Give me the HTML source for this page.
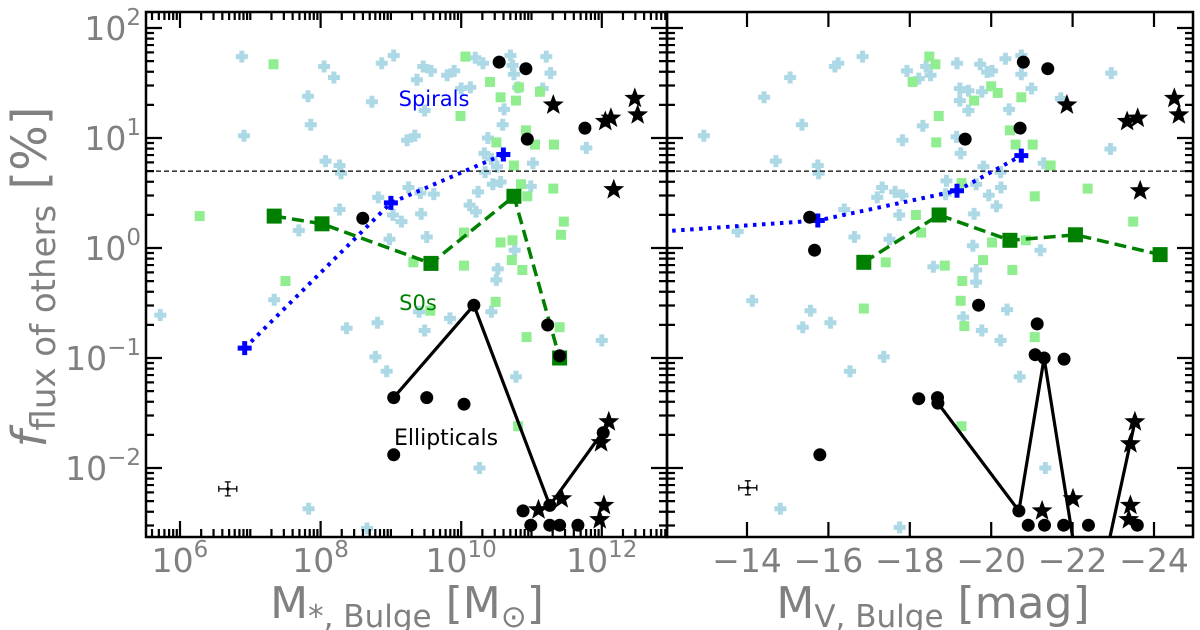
<!DOCTYPE html>
<html><head><meta charset="utf-8">
<style>
html,body{margin:0;padding:0;background:#fff;}
svg{display:block;font-family:"DejaVu Sans","Liberation Sans",sans-serif;}
</style></head>
<body>
<svg id="chart" width="1200" height="630" viewBox="0 0 1200 630" xmlns="http://www.w3.org/2000/svg">
<defs>
<clipPath id="clipL"><rect x="146" y="12" width="521" height="525"/></clipPath>
<clipPath id="clipR"><rect x="667" y="12" width="526" height="525"/></clipPath>
</defs>
<g id="gL" clip-path="url(#clipL)"></g>
<g id="gR" clip-path="url(#clipR)"></g>
<g id="axes"></g>
<text x="407" y="618" text-anchor="middle" font-size="44" fill="#808080">M<tspan font-size="31" dy="9">*, Bulge</tspan><tspan dy="-9"> [M</tspan><tspan font-size="31" dy="9">⊙</tspan><tspan dy="-9">]</tspan></text>
<text x="933" y="618" text-anchor="middle" font-size="44" fill="#808080">M<tspan font-size="31" dy="9">V, Bulge</tspan><tspan dy="-9"> [mag]</tspan></text>
<text transform="translate(46,277) rotate(-90)" text-anchor="middle" font-size="48" fill="#808080"><tspan font-style="italic">f</tspan><tspan font-size="34" dy="9">flux of others</tspan><tspan dy="-9"> [%]</tspan></text>
<text x="434" y="106" text-anchor="middle" font-size="21" fill="#0000ff">Spirals</text>
<text x="418" y="310" text-anchor="middle" font-size="21" fill="#008000">S0s</text>
<text x="446" y="445" text-anchor="middle" font-size="22" fill="#000">Ellipticals</text>
</svg>
<script>
// ---------- DATA (log10 M* for left panel, -M_V for right panel, log10 f[%]) ----------
const spLightLogM=[6.88,6.91,7.82,7.86,8.05,8.19,8.07,8.27,8.29,8.27,7.69,7.34,8.73,8.87,9.04,9.23,9.34,9.37,9.48,9.46,9.57,9.80,9.90,10.0,10.13,10.2,10.31,10.7,10.73,10.75,10.81,10.61,10.59,10.38,10.33,10.43,10.51,10.34,10.45,10.56,10.24,10.12,10.21,10.99,11.02,11.21,11.27,11.16,11.78,9.25,9.42,9.61,8.82,9.03,9.15,9.43,8.98,9.51,10.76,10.52,10.5,8.37,8.81,9.40,9.48,9.84,10.43,8.78,8.94,10.78,10.26,8.66,12.0,5.72,7.83];
const spLightLogF=[1.74,1.02,1.38,1.12,1.65,1.55,0.79,0.75,0.68,0.35,0.16,-0.47,1.33,1.68,1.75,0.98,1.02,1.53,1.25,1.65,1.61,1.57,1.61,1.45,1.46,1.73,1.68,1.75,1.66,1.58,1.46,1.26,1.12,1.0,0.86,0.81,0.74,0.69,0.58,0.60,0.51,0.39,0.33,0.56,0.77,1.74,1.59,1.45,0.91,0.55,0.50,0.49,0.46,0.30,0.24,0.31,0.08,0.10,-0.02,-0.19,-0.29,-0.73,-0.68,-0.58,-0.75,-0.64,-0.58,-0.99,-1.12,-1.17,-2.0,-2.55,-0.84,-0.61,-2.37];
const s0LightLogM=[7.33,6.28,7.50,10.06,10.41,10.56,10.78,10.82,11.12,9.99,10.5,10.92,11.05,11.32,10.75,10.85,10.94,11.31,11.46,11.42,10.56,10.73,10.72,10.87,10.04,9.32,10.04,10.49,10.93,11.40,9.56,10.81];
const s0LightLogF=[1.67,0.29,-0.30,1.74,1.51,1.37,1.34,1.46,1.42,1.20,0.96,1.07,0.94,0.94,0.75,0.58,0.47,0.54,0.24,0.12,0.05,0.07,-0.11,-0.20,-0.16,-0.13,0.14,-0.49,-0.81,-0.72,-0.57,-1.62];
const ellLogM=[10.54,10.92,11.76,10.94,8.6,10.18,9.04,9.51,10.04,9.04,11.23,11.4,10.88,10.99,11.26,11.4,11.66,11.26,12.02];
const ellLogF=[1.69,1.63,1.09,0.99,0.27,-0.52,-1.36,-1.36,-1.42,-1.88,-0.70,-0.98,-2.39,-2.52,-2.52,-2.52,-2.52,-2.34,-1.68];
const starLogM=[11.31,12.05,12.13,12.47,12.51,12.17,11.1,11.43,11.99,12.1,12.03,11.97];
const starLogF=[1.30,1.15,1.18,1.36,1.21,0.53,-2.38,-2.28,-1.77,-1.58,-2.34,-2.47];
const spBinLogM=[6.92,9.0,10.6];
const spBinLogF=[-0.91,0.41,0.85];
const s0BinLogM=[7.34,8.02,9.57,10.75,11.4];
const s0BinLogF=[0.29,0.22,-0.14,0.47,-1.0];
const ellBinLogM=[9.04,10.18,11.26,12.12];
const ellBinLogF=[-1.36,-0.52,-2.34,-1.58];

const spLightMag=[12.94,14.42,15.06,15.35,16.16,16.24,16.84,14.71,15.74,15.76,13.77,16.39,16.64,17.2,17.32,17.64,17.82,17.74,17.5,17.82,17.93,18.22,18.4,18.51,18.32,18.9,18.88,19.16,19.23,19.44,19.23,19.44,19.15,19.25,19.77,19.73,19.9,20.02,20.35,20.74,20.74,20.99,20.44,21.71,22.95,22.93,21.29,19.81,20.23,20.24,19.63,19.94,20.13,19.58,19.55,21.21,19.63,19.63,18.58,14.13,15.56,20.39,15.37,16.05,16.53,17.36,19.31,19.77,20.23,20.7,21.33,14.82,17.75];
const spLightLogFR=[1.02,1.37,1.55,1.12,1.65,1.68,1.74,0.79,0.75,0.68,0.15,0.35,0.10,0.46,0.55,0.51,0.48,0.30,0.08,0.98,1.61,1.54,1.65,1.57,1.11,0.61,0.49,1.68,1.45,1.43,1.34,1.25,1.01,0.86,1.42,1.67,1.6,1.61,1.72,1.75,1.58,1.45,1.26,1.36,1.59,0.90,0.77,0.74,0.69,0.55,0.58,0.48,0.38,0.31,0.02,-0.02,-0.20,-0.31,-0.17,-0.48,-0.57,-0.56,-0.72,-0.68,-1.12,-0.99,-0.63,-0.75,-0.84,-1.17,-2.0,-2.37,-2.54];
const s0LightMag=[18.48,18.63,18.07,20.0,20.16,19.58,20.74,18.71,18.65,20.46,20.6,21.02,21.46,19.27,21.07,22.37,23.49,18.15,18.28,17.41,18.86,19.8,20.02,20.85,20.52,19.29,19.25,16.87,19.34,21.07,19.27];
const s0LightLogFR=[1.74,1.67,1.51,1.47,1.41,1.34,1.37,1.20,0.96,1.07,0.94,0.94,0.75,0.59,0.47,0.54,0.24,0.30,0.14,-0.13,-0.16,-0.11,0.05,0.07,-0.20,-0.30,-0.48,-0.55,-0.71,-0.81,-1.62];
const ellMag=[20.79,21.39,20.71,19.36,15.54,15.66,19.69,21.13,21.08,21.3,21.79,18.22,18.68,18.69,15.79,20.68,20.91,21.31,21.78,22.39,23.59];
const ellLogFR=[1.69,1.63,1.09,0.99,0.28,-0.02,-0.52,-0.69,-0.97,-1.0,-1.01,-1.37,-1.36,-1.41,-1.88,-2.39,-2.52,-2.52,-2.52,-2.52,-2.52];
const starMag=[21.86,23.34,23.6,24.5,24.61,23.66,21.25,22.01,23.42,23.53,23.42,23.38];
const starLogFR=[1.30,1.15,1.18,1.36,1.21,0.52,-2.39,-2.28,-1.78,-1.58,-2.34,-2.47];
const spBinMag=[11.5,15.74,19.16,20.74];
const spBinLogFR=[0.14,0.25,0.52,0.84];
const s0BinMag=[16.87,18.72,20.46,22.07,24.15];
const s0BinLogFR=[-0.13,0.30,0.07,0.12,-0.06];
const ellBinMag=[18.69,20.68,21.3,22.39,23.53];
const ellBinLogFR=[-1.41,-2.39,-1.0,-3.53,-1.58];

const refLogF=0.699; // 5 per cent
const errLeft=[6.68,-2.19];
const errRight=[14.02,-2.18];

// ---------- SCALES ----------
const xL=lm=>180+(lm-6)*70.3;
const xR=m=>747+(m-14)*40.7;
const yS=lf=>248-lf*110;
const NS="http://www.w3.org/2000/svg";
function mk(tag,attrs,parent){const e=document.createElementNS(NS,tag);for(const k in attrs)e.setAttribute(k,attrs[k]);parent.appendChild(e);return e;}
const gL=document.getElementById('gL'),gR=document.getElementById('gR'),ax=document.getElementById('axes');

function plus(g,x,y,s,w,col){return mk('path',{d:`M${x-s} ${y}H${x+s}M${x} ${y-s}V${y+s}`,stroke:col,'stroke-width':w,fill:'none'},g);}
function starPath(x,y,R){let d='';for(let i=0;i<10;i++){const r=i%2?R*0.42:R;const a=-Math.PI/2+i*Math.PI/5;d+=(i?'L':'M')+(x+r*Math.cos(a)).toFixed(1)+' '+(y+r*Math.sin(a)).toFixed(1);}return d+'Z';}

function drawPanel(g,X,spx,spy,s0x,s0y,ex,ey,stx,sty,bx1,by1,bx2,by2,bx3,by3,err,side){
  for(let i=0;i<spx.length;i++){const p=plus(g,X(spx[i]),yS(spy[i]),6,5,'#add8e6');
    
    }
  for(let i=0;i<s0x.length;i++){const r=mk('rect',{x:X(s0x[i])-5,y:yS(s0y[i])-5,width:10,height:10,fill:'#90ee90'},g);
    
    }
  const hl=mk('line',{x1:140,x2:1200,y1:yS(refLogF),y2:yS(refLogF),stroke:'#000','stroke-width':1.3,'stroke-dasharray':'5 3'},g);
  
  
  const l1=mk('polyline',{points:bx1.map((v,i)=>X(v)+','+yS(by1[i])).join(' '),fill:'none',stroke:'#0000ff','stroke-width':4,'stroke-dasharray':'3.5 5.5'},g);
  
  
  for(let i=0;i<bx1.length;i++){const p=plus(g,X(bx1[i]),yS(by1[i]),7,5,'#0000ff');
    
    }
  const l2=mk('polyline',{points:bx2.map((v,i)=>X(v)+','+yS(by2[i])).join(' '),fill:'none',stroke:'#008000','stroke-width':3.5,'stroke-dasharray':'12 6'},g);
  
  
  for(let i=0;i<bx2.length;i++){const r=mk('rect',{x:X(bx2[i])-7.5,y:yS(by2[i])-7.5,width:15,height:15,fill:'#008000'},g);
    
    }
  const l3=mk('polyline',{points:bx3.map((v,i)=>X(v)+','+yS(by3[i])).join(' '),fill:'none',stroke:'#000','stroke-width':3.2},g);
  
  
  for(let i=0;i<ex.length;i++){const c=mk('circle',{cx:X(ex[i]),cy:yS(ey[i]),r:6.5,fill:'#000'},g);
    
    }
  for(let i=0;i<stx.length;i++){const s=mk('path',{d:starPath(X(stx[i]),yS(sty[i]),11),fill:'#000'},g);
    
    }
  const ex0=X(err[0]),ey0=yS(err[1]);
  const eb=mk('path',{d:`M${ex0-9} ${ey0}H${ex0+9}M${ex0-9} ${ey0-3}V${ey0+3}M${ex0+9} ${ey0-3}V${ey0+3}M${ex0} ${ey0-7}V${ey0+7}M${ex0-3} ${ey0-7}H${ex0+3}M${ex0-3} ${ey0+7}H${ex0+3}`,stroke:'#000','stroke-width':1.3,fill:'none'},g);
  
  
  mk('circle',{cx:ex0,cy:ey0,r:1.8,fill:'#000'},g);
}
drawPanel(gL,xL,spLightLogM,spLightLogF,s0LightLogM,s0LightLogF,ellLogM,ellLogF,starLogM,starLogF,spBinLogM,spBinLogF,s0BinLogM,s0BinLogF,ellBinLogM,ellBinLogF,errLeft,'left');
drawPanel(gR,xR,spLightMag,spLightLogFR,s0LightMag,s0LightLogFR,ellMag,ellLogFR,starMag,starLogFR,spBinMag,spBinLogFR,s0BinMag,s0BinLogFR,ellBinMag,ellBinLogFR,errRight,'right');

// ---------- AXES ----------
const T=12,B=537,L1=146,R1=667,L2=667,R2=1193;
function frame(x0,x1,name){const r=mk('rect',{x:x0,y:T,width:x1-x0,height:B-T,fill:'none',stroke:'#000','stroke-width':2.5},ax);
  
  }
frame(L1,R1,'left-panel-frame');frame(L2,R2,'right-panel-frame');
let d='';
const yDec=[-3,-2,-1,0,1,2];
for(const k of yDec){for(let m=1;m<10;m++){const lf=k+Math.log10(m);const y=yS(lf);if(y<T||y>B)continue;const len=m===1?16:8;
  for(const xx of [L1,L2]) d+=`M${xx} ${y}h${len}`;
  for(const xx of [R1,R2]) d+=`M${xx} ${y}h${-len}`;}}
for(let k=5;k<=13;k++){for(let m=1;m<10;m++){const lm=k+Math.log10(m);const x=xL(lm);if(x<L1||x>R1)continue;const len=(m===1&&k%2===0)?16:8;d+=`M${x} ${B}v${-len}M${x} ${T}v${len}`;}}
for(let m=14;m<=24;m+=2){const x=xR(m);d+=`M${x} ${B}v-15M${x} ${T}v15`;}
mk('path',{d:d,stroke:'#000','stroke-width':2.2,fill:'none'},ax);

const yTickExp=["2","1","0","−1","−2"];
const yTickVal=[2,1,0,-1,-2];
yTickVal.forEach((v,i)=>{const t=mk('text',{x:141,y:yS(v)+12,'text-anchor':'end','font-size':33,fill:'#808080'},ax);
  
  
  t.innerHTML=`10<tspan font-size="23" dy="-15">${yTickExp[i]}</tspan>`;});
const xLTickVal=[6,8,10,12];
xLTickVal.forEach(v=>{const t=mk('text',{x:xL(v),y:572,'text-anchor':'middle','font-size':33,fill:'#808080'},ax);
  
  
  t.innerHTML=`10<tspan font-size="23" dy="-15">${v}</tspan>`;});
const xRTickVal=[14,16,18,20,22,24];
xRTickVal.forEach(v=>{const t=mk('text',{x:xR(v),y:572,'text-anchor':'middle','font-size':33,fill:'#808080'},ax);
  
  
  t.textContent='−'+v;});
</script>
</body></html>
